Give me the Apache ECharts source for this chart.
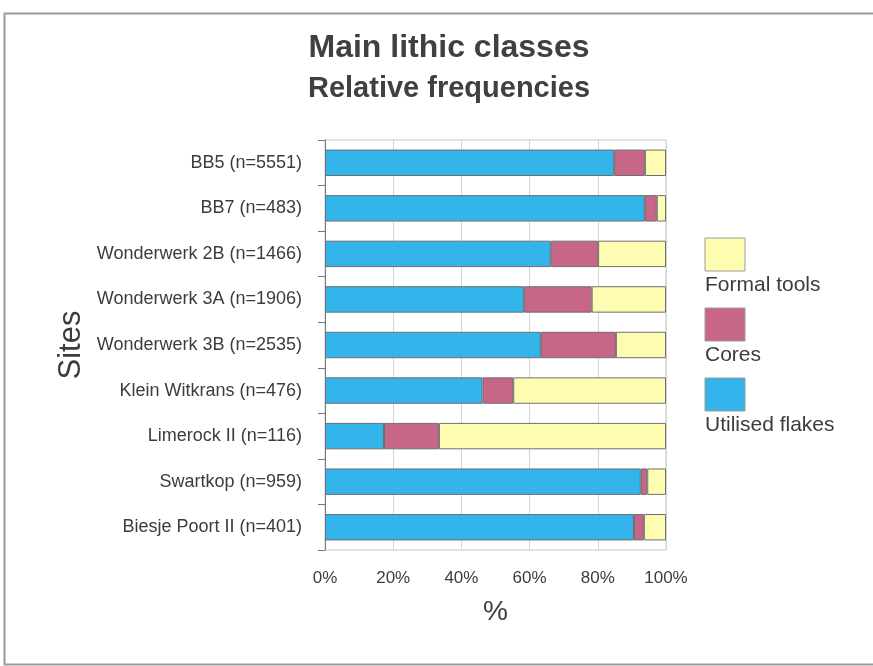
<!DOCTYPE html>
<html>
<head>
<meta charset="utf-8">
<script src="https://cdn.jsdelivr.net/npm/echarts@6/dist/echarts.min.js"></script>
<style>
  html, body { margin: 0; padding: 0; background: #fff; }
  #chart { width: 873px; height: 666px; }
</style>
</head>
<body>
<div id="chart"></div>
<script>
// sites, top to bottom
const sites = [
  'BB5 (n=5551)',
  'BB7 (n=483)',
  'Wonderwerk 2B (n=1466)',
  'Wonderwerk 3A (n=1906)',
  'Wonderwerk 3B (n=2535)',
  'Klein Witkrans (n=476)',
  'Limerock II (n=116)',
  'Swartkop (n=959)',
  'Biesje Poort II (n=401)'
]

// relative frequencies in %
const utilisedFlakes = [84.8, 93.8, 66.2, 58.4, 63.3, 46.2, 17.3, 92.6, 90.6]
const cores = [9.0, 3.5, 13.9, 19.8, 22.0, 9.0, 16.1, 1.9, 2.9]
const formalTools = [6.2, 2.7, 19.9, 21.8, 14.7, 44.8, 66.6, 5.5, 6.5]

const xTicks = [0, 20, 40, 60, 80, 100]

const seriesNames = ['Utilised flakes', 'Cores', 'Formal tools']
const seriesColors = ['#33b4ea', '#c76689', '#fdfcb0']
const seriesData = [utilisedFlakes, cores, formalTools]

const font = 'Liberation Sans, Arial, sans-serif'
const textColor = '#3c3c3c'

const chart = echarts.init(document.getElementById('chart'))

// legend drawn by hand: swatch above its label, top item = last series
const legendItems = []
const legendOrder = [2, 1, 0]
legendOrder.forEach((s, i) => {
  const top = 238 + i * 70
  legendItems.push({
    type: 'rect',
    shape: { x: 705, y: top, width: 40, height: 33 },
    style: { fill: seriesColors[s], stroke: '#9a9a9a', lineWidth: 1 }
  })
  legendItems.push({
    type: 'text',
    x: 705,
    y: top + 37,
    style: {
      text: seriesNames[s],
      fill: textColor,
      font: '21px ' + font
    }
  })
})

chart.setOption({
  backgroundColor: '#fff',
  animation: false,
  title: [
    {
      text: 'Main lithic classes',
      left: 444,
      top: 27,
      textAlign: 'center',
      textStyle: { fontFamily: font, fontSize: 32, fontWeight: 'bold', color: '#404040' }
    },
    {
      text: 'Relative frequencies',
      left: 444,
      top: 69,
      textAlign: 'center',
      textStyle: { fontFamily: font, fontSize: 29, fontWeight: 'bold', color: '#404040' }
    }
  ],
  graphic: [
    {
      type: 'polyline',
      shape: { points: [[880, 13.5], [4.5, 13.5], [4.5, 664.5], [880, 664.5]] },
      style: { stroke: '#9a9a9a', lineWidth: 2, fill: null }
    },
    ...legendItems
  ],
  grid: {
    left: 325,
    right: 207,
    top: 140,
    bottom: 116,
    show: true,
    borderColor: '#c8c8c8',
    borderWidth: 1
  },
  xAxis: {
    type: 'value',
    min: xTicks[0],
    max: xTicks[xTicks.length - 1],
    interval: 20,
    name: '%',
    nameLocation: 'middle',
    nameGap: 48,
    nameTextStyle: { fontFamily: font, fontSize: 28, color: textColor },
    axisLine: { show: false },
    axisTick: { show: false },
    axisLabel: {
      formatter: '{value}%',
      fontFamily: font,
      fontSize: 17,
      color: textColor,
      margin: 20
    },
    splitLine: { show: true, lineStyle: { color: '#d4d4d4', width: 1 } }
  },
  yAxis: {
    type: 'category',
    data: sites,
    inverse: true,
    name: 'Sites',
    nameLocation: 'middle',
    nameGap: 238,
    nameRotate: 90,
    nameTextStyle: { fontFamily: font, fontSize: 31, color: textColor },
    axisLine: { show: true, lineStyle: { color: '#7a7a7a', width: 1 } },
    axisTick: { show: true, length: 7, lineStyle: { color: '#7a7a7a' } },
    axisLabel: {
      fontFamily: font,
      fontSize: 18,
      color: textColor,
      margin: 23
    }
  },
  series: seriesNames.map((name, i) => ({
    name,
    type: 'bar',
    stack: 'total',
    barCategoryGap: '42%',
    data: seriesData[i],
    itemStyle: {
      color: seriesColors[i],
      borderColor: '#6f6f6f',
      borderWidth: 1
    }
  }))
})
</script>
</body>
</html>
